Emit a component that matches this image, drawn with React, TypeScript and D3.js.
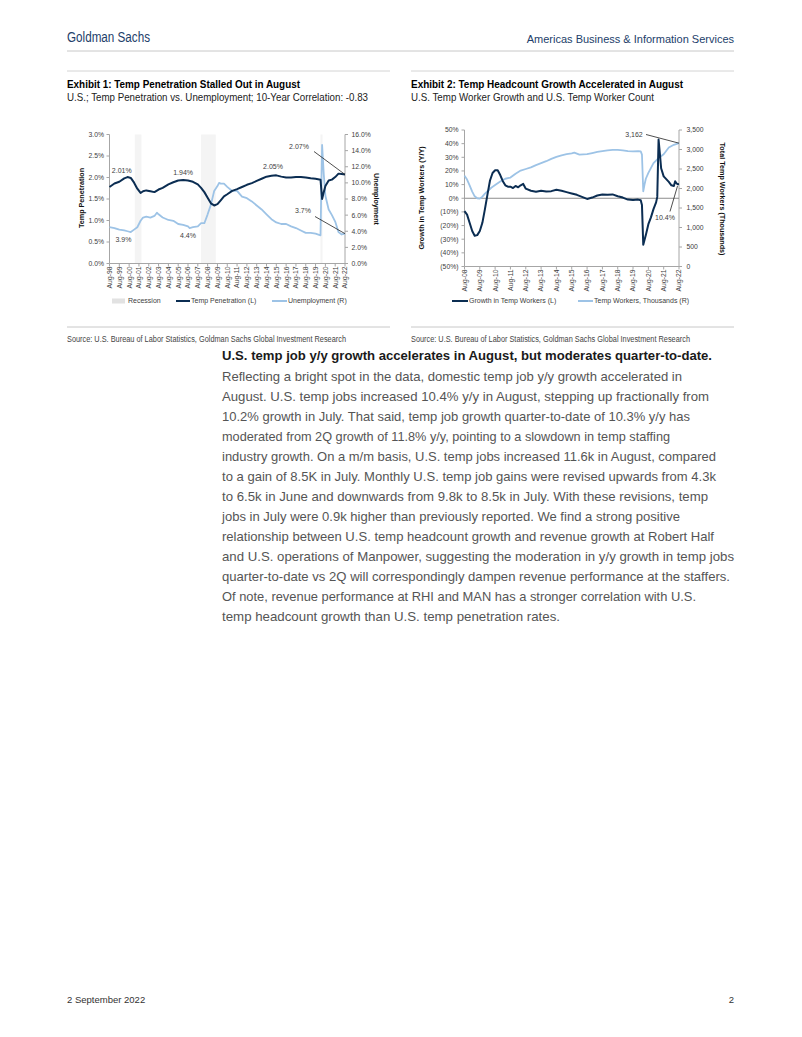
import React from 'react';
import * as d3 from 'd3';

// ---------- DATA ----------
const penMonths = ['1998-08','1999-02','1999-08','2000-02','2000-06','2000-10','2001-02','2001-06','2001-10','2002-01','2002-05','2002-10','2003-03','2003-08','2004-01','2004-08','2005-02','2005-08','2006-02','2006-08','2007-02','2007-08','2007-12','2008-04','2008-08','2008-12','2009-04','2009-08','2009-12','2010-04','2010-08','2011-02','2011-08','2012-02','2012-08','2013-02','2013-08','2014-02','2014-08','2015-02','2015-08','2016-02','2016-08','2017-02','2017-08','2018-02','2018-08','2019-02','2019-08','2020-02','2020-04','2020-06','2020-08','2020-12','2021-04','2021-08','2021-12','2022-04','2022-08'];
const penValues = [1.78,1.86,1.90,1.98,2.01,1.99,1.88,1.74,1.64,1.68,1.70,1.68,1.66,1.72,1.76,1.84,1.89,1.93,1.94,1.93,1.90,1.84,1.76,1.66,1.53,1.40,1.35,1.38,1.47,1.56,1.61,1.69,1.73,1.78,1.83,1.87,1.92,1.97,2.02,2.04,2.05,2.02,2.00,2.00,2.01,2.01,2.00,1.98,1.97,1.95,1.50,1.66,1.80,1.93,1.95,2.01,2.09,2.08,2.07];

const unempMonths = ['1998-08','1999-02','1999-08','2000-02','2000-06','2000-10','2001-02','2001-06','2001-10','2002-01','2002-05','2002-10','2003-03','2003-06','2003-08','2004-01','2004-08','2005-02','2005-08','2006-02','2006-08','2006-10','2007-02','2007-08','2007-12','2008-04','2008-08','2008-12','2009-04','2009-08','2009-10','2009-12','2010-04','2010-08','2011-02','2011-08','2012-02','2012-08','2013-02','2013-08','2014-02','2014-08','2015-02','2015-08','2016-02','2016-08','2017-02','2017-08','2018-02','2018-08','2019-02','2019-08','2020-02','2020-04','2020-06','2020-08','2020-12','2021-04','2021-08','2021-12','2022-04','2022-08'];
const unempValues = [4.5,4.4,4.2,4.1,4.0,3.9,4.2,4.5,5.3,5.7,5.8,5.7,5.9,6.3,6.1,5.7,5.4,5.3,4.9,4.8,4.6,4.4,4.5,4.6,5.0,5.0,6.1,7.3,9.0,9.6,10.0,9.9,9.9,9.5,9.0,9.0,8.3,8.1,7.7,7.2,6.7,6.1,5.5,5.1,4.9,4.9,4.6,4.4,4.1,3.8,3.8,3.7,3.5,14.7,11.1,8.4,6.7,6.0,5.2,3.9,3.6,3.7];

const recessionStarts = ['2001-03','2007-12','2020-02'];
const recessionEnds = ['2001-11','2009-06','2020-04'];

const growthMonths = ['2008-08','2008-10','2008-12','2009-02','2009-04','2009-06','2009-08','2009-10','2009-12','2010-02','2010-04','2010-06','2010-08','2010-10','2010-12','2011-02','2011-04','2011-06','2011-08','2011-10','2011-12','2012-02','2012-04','2012-06','2012-08','2012-12','2013-04','2013-08','2013-12','2014-04','2014-08','2014-12','2015-04','2015-08','2015-12','2016-04','2016-08','2016-12','2017-04','2017-08','2017-12','2018-04','2018-08','2018-12','2019-04','2019-08','2019-12','2020-02','2020-03','2020-04','2020-06','2020-08','2020-10','2020-12','2021-02','2021-03','2021-04','2021-05','2021-06','2021-08','2021-10','2021-12','2022-02','2022-04','2022-05','2022-06','2022-07','2022-08'];
const growthValues = [-9.5,-12,-18,-24,-27.5,-27,-24,-18,-8,3,13,18.5,20.5,20.5,17,12.5,9.5,8.5,8.5,7.5,9,8,9.5,10.5,7,5.5,4.8,5.5,5,5.2,6.2,5.5,4.5,3.5,2.5,1,-0.5,0.5,2,2.8,2.5,2.8,1.5,0.5,-1,-1.2,-1,-1.5,-5,-34,-27,-19,-14,-8,-3,1,43,33,22,16,14,12,9.5,9,12.5,11,10.2,10.4];

const workerMonths = ['2008-08','2008-10','2008-12','2009-02','2009-04','2009-06','2009-08','2009-10','2009-12','2010-02','2010-05','2010-08','2010-12','2011-04','2011-08','2011-12','2012-04','2012-08','2012-12','2013-04','2013-08','2013-12','2014-04','2014-08','2014-12','2015-04','2015-08','2015-10','2016-02','2016-08','2016-12','2017-04','2017-08','2017-12','2018-04','2018-08','2018-12','2019-04','2019-08','2019-12','2020-02','2020-03','2020-04','2020-05','2020-06','2020-08','2020-12','2021-04','2021-08','2021-12','2022-04','2022-08'];
const workerValues = [2330,2230,2080,1920,1800,1750,1740,1790,1870,1930,2020,2090,2180,2250,2280,2380,2460,2500,2540,2600,2650,2700,2760,2810,2850,2880,2900,2920,2870,2880,2910,2940,2960,2980,2990,2990,2980,2960,2950,2960,2950,2870,1930,2100,2250,2400,2650,2780,2880,3050,3120,3162];

const chart1Years = d3.range(1998, 2023);
const chart2Years = d3.range(2008, 2023);
const penTicks = [0, 0.5, 1.0, 1.5, 2.0, 2.5, 3.0];
const unempTicks = [0, 2, 4, 6, 8, 10, 12, 14, 16];
const growthTicks = [-50, -40, -30, -20, -10, 0, 10, 20, 30, 40, 50];
const workerTicks = [0, 500, 1000, 1500, 2000, 2500, 3000, 3500];

const bodyHeading = 'U.S. temp job y/y growth accelerates in August, but moderates quarter-to-date.';
const bodyLines = [
  'Reflecting a bright spot in the data, domestic temp job y/y growth accelerated in',
  'August. U.S. temp jobs increased 10.4% y/y in August, stepping up fractionally from',
  '10.2% growth in July. That said, temp job growth quarter-to-date of 10.3% y/y has',
  'moderated from 2Q growth of 11.8% y/y, pointing to a slowdown in temp staffing',
  'industry growth. On a m/m basis, U.S. temp jobs increased 11.6k in August, compared',
  'to a gain of 8.5K in July. Monthly U.S. temp job gains were revised upwards from 4.3k',
  'to 6.5k in June and downwards from 9.8k to 8.5k in July. With these revisions, temp',
  'jobs in July were 0.9k higher than previously reported. We find a strong positive',
  'relationship between U.S. temp headcount growth and revenue growth at Robert Half',
  'and U.S. operations of Manpower, suggesting the moderation in y/y growth in temp jobs',
  'quarter-to-date vs 2Q will correspondingly dampen revenue performance at the staffers.',
  'Of note, revenue performance at RHI and MAN has a stronger correlation with U.S.',
  'temp headcount growth than U.S. temp penetration rates.',
];
// layout: line end x positions measured from the page
const bodyLineEnds = [682, 709, 690, 670, 716, 716, 708, 680, 714, 734, 730, 696, 560];

// ---------- STYLE ----------
const NAVY = '#0b2d52';
const LIGHT = '#9dc3e6';
const AXIS = '#a6a6a6';
const TXT = '#404040';
const F = 'Liberation Sans, Arial, sans-serif';
const FN = 'Liberation Sans Narrow, Arial Narrow, Liberation Sans, sans-serif';

const parse = d3.timeParse('%Y-%m') as (s: string) => Date;
const fmtPct1 = (v: number) => v.toFixed(1) + '%';
const fmtGrowth = (v: number) => (v < 0 ? `(${Math.abs(v)}%)` : `${v}%`);
const fmtComma = d3.format(',');

export default function App() {
  // chart 1 scales
  const x1 = d3.scaleTime().domain([parse('1998-08'), parse('2022-08')]).range([109.5, 345]);
  const yL1 = d3.scaleLinear().domain([0, 3]).range([263.5, 134.5]);
  const yR1 = d3.scaleLinear().domain([0, 16]).range([263.5, 134.5]);
  // chart 2 scales
  const x2 = d3.scaleTime().domain([parse('2008-08'), parse('2022-08')]).range([464.5, 679]);
  const yL2 = d3.scaleLinear().domain([-50, 50]).range([266.5, 130]);
  const yR2 = d3.scaleLinear().domain([0, 3500]).range([266.5, 130]);

  const penLine = d3.line<number>().x((_, i) => x1(parse(penMonths[i]))).y((d) => yL1(d))(penValues) || '';
  const unempLine = d3.line<number>().x((_, i) => x1(parse(unempMonths[i]))).y((d) => yR1(d))(unempValues) || '';
  const growthLine = d3.line<number>().x((_, i) => x2(parse(growthMonths[i]))).y((d) => yL2(d))(growthValues) || '';
  const workerLine = d3.line<number>().x((_, i) => x2(parse(workerMonths[i]))).y((d) => yR2(d))(workerValues) || '';

  const y1Bottom = yL1(0);
  const y1Top = yL1(3);
  const y2Bottom = yL2(-50);

  const endPenX = x1(parse(penMonths[penMonths.length - 1]));
  const endPenY = yL1(penValues[penValues.length - 1]);
  const endUnY = yR1(unempValues[unempValues.length - 1]);
  const endWX = x2(parse(workerMonths[workerMonths.length - 1]));
  const endWY = yR2(workerValues[workerValues.length - 1]);
  const endGY = yL2(growthValues[growthValues.length - 1]);

  return (
    <svg width={802} height={1037} style={{ position: 'absolute', left: 0, top: 0, background: '#fff' }} fontFamily={F}>
      <rect x={0} y={0} width={802} height={1037} fill="#fff" />
      {/* header */}
      <text x={67} y={41.5} fontFamily={FN} fontSize={14} fill="#22406a" textLength={83} lengthAdjust="spacingAndGlyphs">Goldman Sachs</text>
      <text x={734} y={42.5} fontFamily={FN} fontSize={11} fill="#22406a" textAnchor="end">Americas Business &amp; Information Services</text>
      <line x1={67} x2={734} y1={51} y2={51} stroke="#c8c8c8" strokeWidth={1} />

      {/* exhibit top rules */}
      <line x1={67} x2={390} y1={71} y2={71} stroke="#d4d4d4" strokeWidth={1} />
      <line x1={411} x2={734} y1={71} y2={71} stroke="#d4d4d4" strokeWidth={1} />

      {/* titles */}
      <text x={67} y={88} fontFamily={FN} fontWeight="bold" fontSize={11} fill="#000" textLength={233} lengthAdjust="spacingAndGlyphs">Exhibit 1: Temp Penetration Stalled Out in August</text>
      <text x={67} y={100.5} fontFamily={FN} fontSize={11} fill="#222" textLength={301} lengthAdjust="spacingAndGlyphs">U.S.; Temp Penetration vs. Unemployment; 10-Year Correlation: -0.83</text>
      <text x={411} y={88} fontFamily={FN} fontWeight="bold" fontSize={11} fill="#000" textLength={272} lengthAdjust="spacingAndGlyphs">Exhibit 2: Temp Headcount Growth Accelerated in August</text>
      <text x={411} y={100.5} fontFamily={FN} fontSize={11} fill="#222" textLength={243} lengthAdjust="spacingAndGlyphs">U.S. Temp Worker Growth and U.S. Temp Worker Count</text>

      {/* ===== CHART 1 ===== */}
      {recessionStarts.map((s, i) => (
        <rect key={'rec' + i} x={x1(parse(s))} y={y1Top} width={Math.max(2, x1(parse(recessionEnds[i])) - x1(parse(s)))} height={y1Bottom - y1Top} fill="#f4f4f4" />
      ))}
      {/* axes */}
      <line x1={x1.range()[0]} x2={x1.range()[0]} y1={y1Top} y2={y1Bottom} stroke={AXIS} />
      <line x1={x1.range()[1]} x2={x1.range()[1]} y1={y1Top} y2={y1Bottom} stroke={AXIS} />
      <line x1={x1.range()[0]} x2={x1.range()[1]} y1={y1Bottom} y2={y1Bottom} stroke={AXIS} />
      {penTicks.map((t) => (
        <g key={'pt' + t}>
          <line x1={x1.range()[0] - 3} x2={x1.range()[0]} y1={yL1(t)} y2={yL1(t)} stroke={AXIS} />
          <text x={104} y={yL1(t)} dy="0.35em" fontSize={6.8} fill={TXT} textAnchor="end">{fmtPct1(t)}</text>
        </g>
      ))}
      {unempTicks.map((t) => (
        <g key={'ut' + t}>
          <line x1={x1.range()[1]} x2={x1.range()[1] + 3} y1={yR1(t)} y2={yR1(t)} stroke={AXIS} />
          <text x={351.5} y={yR1(t)} dy="0.35em" fontSize={6.8} fill={TXT}>{fmtPct1(t)}</text>
        </g>
      ))}
      {chart1Years.map((yr) => {
        const xx = x1(parse(`${yr}-08`));
        return (
          <g key={'x1' + yr}>
            <line x1={xx} x2={xx} y1={y1Bottom} y2={y1Bottom + 3} stroke={AXIS} />
            <text transform={`translate(${xx},${y1Bottom + 3}) rotate(-90)`} dy="0.35em" fontSize={6.8} fill={TXT} textAnchor="end">{`Aug-${String(yr % 100).padStart(2, '0')}`}</text>
          </g>
        );
      })}
      <text transform={`translate(81,198) rotate(-90)`} fontSize={7.2} fontWeight="bold" fill="#111" textAnchor="middle" dy="0.35em">Temp Penetration</text>
      <text transform={`translate(376.5,199) rotate(90)`} fontSize={7.2} fontWeight="bold" fill="#111" textAnchor="middle" dy="0.35em">Unemployment</text>

      <path d={unempLine} fill="none" stroke={LIGHT} strokeWidth={1.8} strokeLinejoin="round" />
      <path d={penLine} fill="none" stroke={NAVY} strokeWidth={2} strokeLinejoin="round" />

      {/* chart 1 annotations */}
      <text x={x1(parse('1999-11'))} y={yL1(2.01) - 7} dy="0.35em" fontSize={7} fill={TXT} textAnchor="middle">2.01%</text>
      <text x={x1(parse('2006-02'))} y={yL1(1.94) - 7.5} dy="0.35em" fontSize={7} fill={TXT} textAnchor="middle">1.94%</text>
      <text x={x1(parse('2015-04'))} y={yL1(2.05) - 9} dy="0.35em" fontSize={7} fill={TXT} textAnchor="middle">2.05%</text>
      <text x={x1(parse('2000-01'))} y={yR1(3.9) + 7.5} dy="0.35em" fontSize={7} fill={TXT} textAnchor="middle">3.9%</text>
      <text x={x1(parse('2006-08'))} y={yR1(4.4) + 8} dy="0.35em" fontSize={7} fill={TXT} textAnchor="middle">4.4%</text>
      <text x={299} y={147} dy="0.35em" fontSize={7} fill={TXT} textAnchor="middle">2.07%</text>
      <line x1={314} y1={151.5} x2={endPenX} y2={endPenY} stroke="#222" strokeWidth={0.8} />
      <text x={303} y={211} dy="0.35em" fontSize={7} fill={TXT} textAnchor="middle">3.7%</text>
      <line x1={315} y1={216.5} x2={endPenX} y2={endUnY} stroke="#222" strokeWidth={0.8} />

      {/* chart 1 legend */}
      <rect x={112} y={298.5} width={13} height={5} fill="#e2e2e2" />
      <text x={128} y={301} dy="0.35em" fontSize={7} fill={TXT}>Recession</text>
      <line x1={176} x2={190} y1={301} y2={301} stroke={NAVY} strokeWidth={2} />
      <text x={191} y={301} dy="0.35em" fontSize={7} fill={TXT}>Temp Penetration (L)</text>
      <line x1={272} x2={287} y1={301} y2={301} stroke={LIGHT} strokeWidth={2} />
      <text x={288} y={301} dy="0.35em" fontSize={7} fill={TXT}>Unemployment (R)</text>

      {/* ===== CHART 2 ===== */}
      <line x1={x2.range()[0]} x2={x2.range()[0]} y1={yL2(50)} y2={y2Bottom} stroke={AXIS} />
      <line x1={x2.range()[1]} x2={x2.range()[1]} y1={yL2(50)} y2={y2Bottom} stroke={AXIS} />
      <line x1={x2.range()[0]} x2={x2.range()[1]} y1={y2Bottom} y2={y2Bottom} stroke={AXIS} />
      <line x1={x2.range()[0]} x2={x2.range()[1]} y1={yL2(0)} y2={yL2(0)} stroke="#8c8c8c" strokeWidth={1} />
      {growthTicks.map((t) => (
        <g key={'gt' + t}>
          <line x1={x2.range()[0] - 3} x2={x2.range()[0]} y1={yL2(t)} y2={yL2(t)} stroke={AXIS} />
          <text x={458.5} y={yL2(t)} dy="0.35em" fontSize={6.8} fill={TXT} textAnchor="end">{fmtGrowth(t)}</text>
        </g>
      ))}
      {workerTicks.map((t) => (
        <g key={'wt' + t}>
          <line x1={x2.range()[1]} x2={x2.range()[1] + 3} y1={yR2(t)} y2={yR2(t)} stroke={AXIS} />
          <text x={686.5} y={yR2(t)} dy="0.35em" fontSize={6.8} fill={TXT}>{fmtComma(t)}</text>
        </g>
      ))}
      {chart2Years.map((yr) => {
        const xx = x2(parse(`${yr}-08`));
        return (
          <g key={'x2' + yr}>
            <line x1={xx} x2={xx} y1={y2Bottom} y2={y2Bottom + 3} stroke={AXIS} />
            <text transform={`translate(${xx},${y2Bottom + 3}) rotate(-90)`} dy="0.35em" fontSize={6.8} fill={TXT} textAnchor="end">{`Aug-${String(yr % 100).padStart(2, '0')}`}</text>
          </g>
        );
      })}
      <text transform={`translate(421.5,198) rotate(-90)`} fontSize={7.2} fontWeight="bold" fill="#111" textAnchor="middle" dy="0.35em">Growth in Temp Workers (Y/Y)</text>
      <text transform={`translate(723,199) rotate(90)`} fontSize={7.2} fontWeight="bold" fill="#111" textAnchor="middle" dy="0.35em">Total Temp Workers (Thousands)</text>

      <path d={workerLine} fill="none" stroke={LIGHT} strokeWidth={1.8} strokeLinejoin="round" />
      <path d={growthLine} fill="none" stroke={NAVY} strokeWidth={2} strokeLinejoin="round" />

      <text x={634} y={134.5} dy="0.35em" fontSize={7} fill={TXT} textAnchor="middle">3,162</text>
      <line x1={646} y1={134.5} x2={endWX} y2={endWY} stroke="#222" strokeWidth={0.8} />
      <text x={665} y={218} dy="0.35em" fontSize={7} fill={TXT} textAnchor="middle">10.4%</text>
      <line x1={670} y1={211.5} x2={endWX - 1.5} y2={endGY + 2} stroke="#222" strokeWidth={0.8} />

      {/* chart 2 legend */}
      <line x1={452} x2={468} y1={301} y2={301} stroke={NAVY} strokeWidth={2} />
      <text x={469} y={301} dy="0.35em" fontSize={7} fill={TXT}>Growth in Temp Workers (L)</text>
      <line x1={578} x2={593} y1={301} y2={301} stroke={LIGHT} strokeWidth={2} />
      <text x={594} y={301} dy="0.35em" fontSize={7} fill={TXT}>Temp Workers, Thousands (R)</text>

      {/* sources */}
      <line x1={67} x2={390} y1={327} y2={327} stroke="#c8c8c8" strokeWidth={1} />
      <line x1={411} x2={734} y1={327} y2={327} stroke="#c8c8c8" strokeWidth={1} />
      <text x={67} y={342} fontFamily={FN} fontSize={8.5} fill="#444" textLength={279} lengthAdjust="spacingAndGlyphs">Source: U.S. Bureau of Labor Statistics, Goldman Sachs Global Investment Research</text>
      <text x={411} y={342} fontFamily={FN} fontSize={8.5} fill="#444" textLength={279} lengthAdjust="spacingAndGlyphs">Source: U.S. Bureau of Labor Statistics, Goldman Sachs Global Investment Research</text>

      {/* body text */}
      <text x={222} y={360} fontSize={13} fontWeight="bold" fill="#1a1a1a" textLength={490} lengthAdjust="spacingAndGlyphs">{bodyHeading}</text>
      {bodyLines.map((ln, i) => (
        <text key={'b' + i} x={222} y={381 + i * 20} fontSize={13} fill="#555" textLength={bodyLineEnds[i] - 222} lengthAdjust="spacingAndGlyphs">{ln}</text>
      ))}

      {/* footer */}
      <text x={67} y={1003} fontFamily={FN} fontSize={9.5} fill="#333">2 September 2022</text>
      <text x={734} y={1003} fontFamily={FN} fontSize={9.5} fill="#333" textAnchor="end">2</text>
    </svg>
  );
}
